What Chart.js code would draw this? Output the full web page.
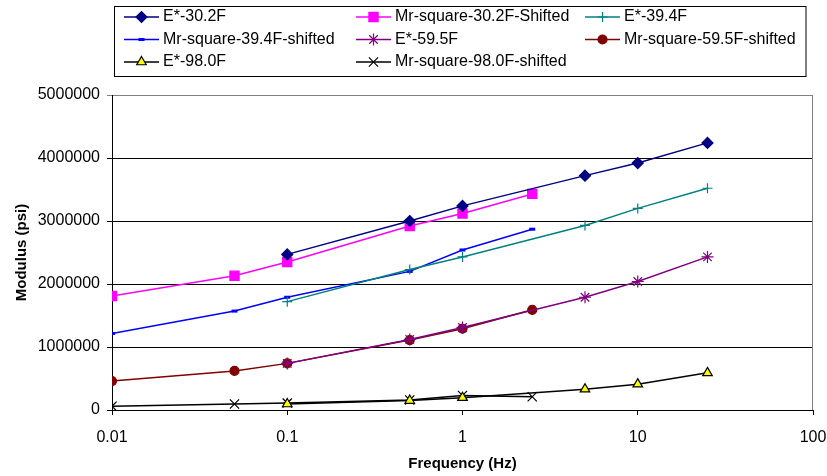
<!DOCTYPE html>
<html>
<head>
<meta charset="utf-8">
<title>Modulus vs Frequency</title>
<script src="https://cdn.jsdelivr.net/npm/chart.js@4/dist/chart.umd.min.js"></script>
<style>
  html, body { margin: 0; padding: 0; background: #fff; }
  #wrap { position: relative; width: 827px; height: 476px; }
</style>
</head>
<body>
<div id="wrap"><canvas id="chart"></canvas></div>
<script>
// frequencies (Hz)
const FREQ_E = [0.1, 0.5, 1, 5, 10, 25];
const FREQ_MR = [0.01, 0.05, 0.1, 0.5, 1, 2.5];

// modulus values (psi)
const E_30_2 = [2470000, 3000000, 3240000, 3720000, 3920000, 4240000];
const MR_30_2 = [1810000, 2130000, 2350000, 2920000, 3120000, 3430000];
const E_39_4 = [1720000, 2230000, 2430000, 2930000, 3200000, 3520000];
const MR_39_4 = [1215000, 1570000, 1790000, 2200000, 2540000, 2870000];
const E_59_5 = [740000, 1120000, 1310000, 1790000, 2040000, 2430000];
const MR_59_5 = [460000, 620000, 740000, 1110000, 1290000, 1590000];
const E_98_0 = [95000, 150000, 195000, 330000, 410000, 590000];
const MR_98_0 = [60000, 95000, 110000, 160000, 230000, 210000];

const X_TICKS = [0.01, 0.1, 1, 10, 100];
const Y_MAX = 5000000;
const Y_STEP = 1000000;

const FONT = 'Liberation Sans, Arial, Helvetica, sans-serif';

const pts = (xs, ys) => xs.map((x, i) => ({ x: x, y: ys[i] }));

// one entry per series: label, data, line colour, marker
const SERIES = [
  { label: 'E*-30.2F', data: pts(FREQ_E, E_30_2), color: '#000080', style: 'rectRot', r: 5.5, fill: '#000080' },
  { label: 'Mr-square-30.2F-Shifted', data: pts(FREQ_MR, MR_30_2), color: '#FF00FF', style: 'rect', r: 6.5, fill: '#FF00FF' },
  { label: 'E*-39.4F', data: pts(FREQ_E, E_39_4), color: '#008080', style: 'cross', r: 5, fill: '#008080' },
  { label: 'Mr-square-39.4F-shifted', data: pts(FREQ_MR, MR_39_4), color: '#0000FF', style: 'line', r: 3, fill: '#0000FF', bw: 3 },
  { label: 'E*-59.5F', data: pts(FREQ_E, E_59_5), color: '#800080', style: 'star', r: 6, fill: '#800080' },
  { label: 'Mr-square-59.5F-shifted', data: pts(FREQ_MR, MR_59_5), color: '#800000', style: 'circle', r: 4.5, fill: '#800000' },
  { label: 'E*-98.0F', data: pts(FREQ_E, E_98_0), color: '#000000', style: 'triangle', r: 5.5, fill: '#FFFF00' },
  { label: 'Mr-square-98.0F-shifted', data: pts(FREQ_MR, MR_98_0), color: '#000000', style: 'crossRot', r: 6.5, fill: '#000000' }
];

// boxed 3-column legend like the spreadsheet one
const boxLegend = {
  id: 'boxLegend',
  afterDraw(chart) {
    const ctx = chart.ctx;
    const colX = [124, 356, 585];
    const rowY = [17, 39.5, 62];
    ctx.save();
    ctx.strokeStyle = '#000';
    ctx.lineWidth = 1;
    ctx.strokeRect(114.5, 6.5, 691.5, 70);

    SERIES.forEach((s, i) => {
      const x = colX[i % 3];
      const y = rowY[Math.floor(i / 3)];
      ctx.strokeStyle = s.color;
      ctx.lineWidth = 1.5;
      ctx.beginPath();
      ctx.moveTo(x, y);
      ctx.lineTo(x + 35, y);
      ctx.stroke();

      ctx.fillStyle = s.fill;
      ctx.strokeStyle = s.style === 'triangle' ? '#000' : s.color;
      ctx.lineWidth = s.bw || 1.2;
      Chart.helpers.drawPoint(ctx, { pointStyle: s.style, radius: s.r, borderWidth: s.bw || 1.2, rotation: 0 }, x + 17.5, y);

      ctx.fillStyle = '#000';
      ctx.font = '16px ' + FONT;
      ctx.textBaseline = 'middle';
      ctx.textAlign = 'left';
      ctx.fillText(s.label, x + 39, y);
    });
    ctx.restore();
  }
};

// gray plot-area border on the right
const plotBorder = {
  id: 'plotBorder',
  afterDatasetsDraw(chart) {
    const { ctx, chartArea: a } = chart;
    ctx.save();
    ctx.strokeStyle = '#808080';
    ctx.lineWidth = 1;
    ctx.beginPath();
    ctx.moveTo(Math.round(a.right) - 0.5, a.top);
    ctx.lineTo(Math.round(a.right) - 0.5, a.bottom);
    ctx.stroke();
    ctx.restore();
  }
};

Chart.defaults.font.family = FONT;
Chart.defaults.font.size = 16;
Chart.defaults.color = '#000';

new Chart(document.getElementById('chart'), {
  type: 'scatter',
  data: {
    datasets: SERIES.map((s) => ({
      label: s.label,
      data: s.data,
      showLine: true,
      borderColor: s.color,
      borderWidth: 1.5,
      pointStyle: s.style,
      pointRadius: s.r,
      pointBackgroundColor: s.fill,
      pointBorderColor: s.style === 'triangle' ? '#000' : s.color,
      pointBorderWidth: s.bw || 1.2,
      tension: 0
    }))
  },
  options: {
    responsive: true,
    maintainAspectRatio: false,
    animation: false,
    layout: { padding: { left: 0, top: 95, right: 14, bottom: 0 } },
    plugins: {
      legend: { display: false },
      tooltip: { enabled: false }
    },
    scales: {
      x: {
        type: 'logarithmic',
        min: X_TICKS[0],
        max: X_TICKS[X_TICKS.length - 1],
        afterBuildTicks: (scale) => { scale.ticks = X_TICKS.map((v) => ({ value: v })); },
        afterFit: (scale) => {
          scale.height = 66;
          // the "100" label may hang past the plot edge, don't shrink the plot for it
          scale.paddingLeft = 0;
          scale.paddingRight = 0;
        },
        border: { display: true, color: '#000', width: 1 },
        grid: { drawOnChartArea: false, drawTicks: true, tickLength: 5, color: '#000' },
        ticks: { autoSkip: false, maxRotation: 0, padding: 13, callback: (v) => String(v) },
        title: { display: true, text: 'Frequency (Hz)', font: { size: 15, weight: 'bold' }, padding: { top: 0, bottom: 3 } }
      },
      y: {
        min: 0,
        max: Y_MAX,
        afterFit: (scale) => { scale.width = 112; },
        border: { display: true, color: '#000', width: 1 },
        grid: {
          drawTicks: true,
          tickLength: 5,
          color: (c) => (c.tick && c.tick.value === Y_MAX ? '#808080' : '#000')
        },
        ticks: { stepSize: Y_STEP, padding: 7, callback: (v) => String(v) },
        title: { display: true, text: 'Modulus (psi)', font: { size: 15, weight: 'bold' }, padding: { top: 13, bottom: 0 } }
      }
    }
  },
  plugins: [boxLegend, plotBorder]
});
</script>
</body>
</html>
